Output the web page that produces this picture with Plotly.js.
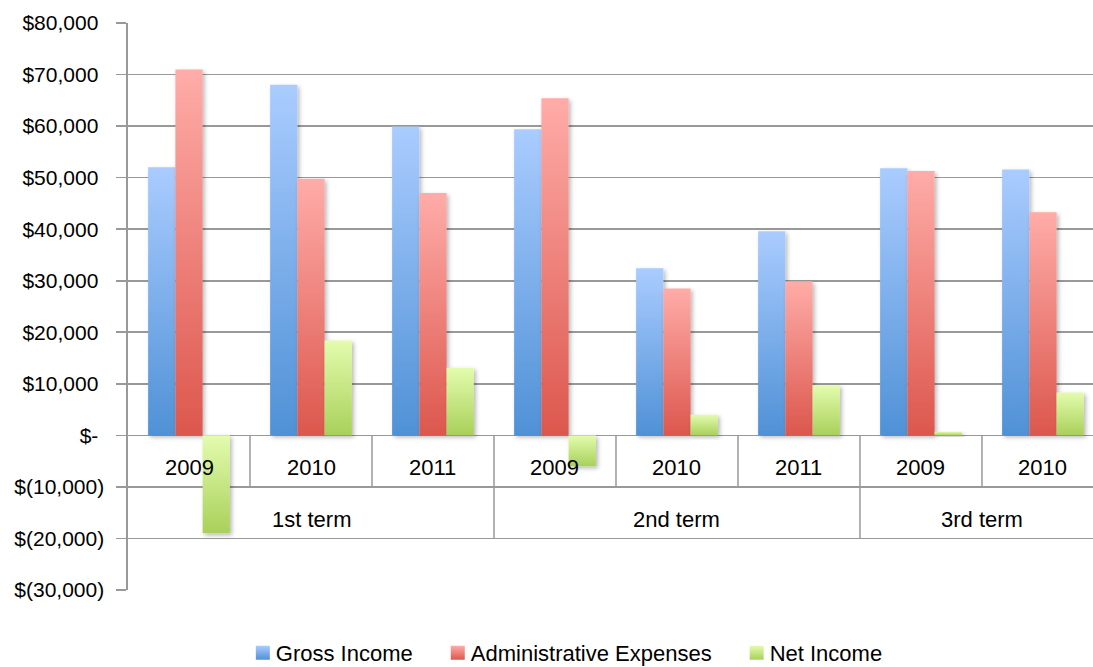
<!DOCTYPE html>
<html>
<head>
<meta charset="utf-8">
<script src="https://cdn.plot.ly/plotly-3.0.1.min.js"></script>
<style>
html,body{margin:0;padding:0;background:#fff;overflow:hidden;}
#chart{width:1093px;height:667px;}
</style>
</head>
<body>
<div id="chart"></div>
<script>
// ---- data ----
const terms = ["1st term", "2nd term", "3rd term"];
const termOfCategory = ["1st term", "1st term", "1st term", "2nd term", "2nd term", "2nd term", "3rd term", "3rd term"];
const years = ["2009", "2010", "2011", "2009", "2010", "2011", "2009", "2010"];
const grossIncome = [52000, 68000, 59900, 59400, 32400, 39600, 51800, 51600];
const adminExpenses = [71000, 49800, 47000, 65400, 28500, 29900, 51300, 43300];
const netIncome = [-19000, 18400, 13100, -6000, 4000, 9700, 700, 8300];
const yTickVals = [-30000, -20000, -10000, 0, 10000, 20000, 30000, 40000, 50000, 60000, 70000, 80000];
const yTickText = ["$(30,000)", "$(20,000)", "$(10,000)", "$-\u00a0", "$10,000\u00a0", "$20,000\u00a0", "$30,000\u00a0", "$40,000\u00a0", "$50,000\u00a0", "$60,000\u00a0", "$70,000\u00a0", "$80,000\u00a0"];
const seriesNames = ["Gross Income", "Administrative Expenses", "Net Income"];

const FONT = "Liberation Sans, Arial, sans-serif";
const GRID = "#999999";
const idx = years.map((_, i) => i);

const gradients = [
  ["#aaccff", "#4f91d6"],
  ["#ffaca8", "#dc574d"],
  ["#e3fcae", "#a9d05a"]
];

const traces = [grossIncome, adminExpenses, netIncome].map((vals, k) => ({
  type: "bar",
  name: seriesNames[k],
  x: idx,
  y: vals,
  marker: {color: gradients[k][1], line: {width: 0}},
  hoverinfo: "skip"
}));

// category table: year labels, term labels, separators
const annotations = [];
years.forEach((yr, i) => {
  annotations.push({x: i, y: -6300, xref: "x", yref: "y", text: yr, showarrow: false,
    font: {family: FONT, size: 22, color: "#000"}});
});
const shapes = [];
for (let i = 1; i < years.length; i++) {
  shapes.push({type: "line", xref: "x", yref: "y", x0: i - 0.5, x1: i - 0.5, y0: 0, y1: -10000,
    line: {color: GRID, width: 1.5}, layer: "above"});
}
terms.forEach(t => {
  const members = idx.filter(i => termOfCategory[i] === t);
  const lo = Math.min(...members), hi = Math.max(...members);
  annotations.push({x: (lo + hi) / 2, y: -16400, xref: "x", yref: "y", text: t, showarrow: false,
    font: {family: FONT, size: 22, color: "#000"}});
  if (lo > 0) {
    shapes.push({type: "line", xref: "x", yref: "y", x0: lo - 0.5, x1: lo - 0.5, y0: -10000, y1: -20000,
      line: {color: GRID, width: 1.5}, layer: "above"});
  }
});

const layout = {
  width: 1093, height: 667,
  margin: {l: 128, r: 0, t: 23, b: 77, autoexpand: false},
  paper_bgcolor: "#fff", plot_bgcolor: "#fff",
  barmode: "group",
  bargap: 0.33,
  bargroupgap: 0,
  font: {family: FONT, size: 21, color: "#000"},
  xaxis: {range: [-0.5, 7.41], showticklabels: false, showgrid: false, zeroline: false,
    showline: false, ticks: "", fixedrange: true, automargin: false},
  yaxis: {range: [-30000, 80000], tickvals: yTickVals, ticktext: yTickText,
    showgrid: true, gridcolor: GRID, gridwidth: 1.6,
    zeroline: true, zerolinecolor: GRID, zerolinewidth: 1.6,
    showline: true, linecolor: GRID, linewidth: 1.6,
    ticks: "outside", ticklen: 10, tickcolor: GRID, tickwidth: 1.6,
    ticklabelstandoff: 8, automargin: false,
    tickfont: {family: FONT, size: 21, color: "#000"}, fixedrange: true},
  legend: {orientation: "h", x: 0.456, xanchor: "center", y: -0.111, yanchor: "middle",
    font: {family: FONT, size: 22, color: "#000"}, itemclick: false, traceorder: "normal"},
  annotations: annotations,
  shapes: shapes,
  showlegend: true
};

const gd = document.getElementById("chart");
Plotly.newPlot(gd, traces, layout, {staticPlot: true, displayModeBar: false}).then(() => {
  const svg = gd.querySelector("svg.main-svg");
  const ns = "http://www.w3.org/2000/svg";
  let defs = svg.querySelector("defs");
  if (!defs) { defs = document.createElementNS(ns, "defs"); svg.insertBefore(defs, svg.firstChild); }
  gradients.forEach((g, k) => {
    const lg = document.createElementNS(ns, "linearGradient");
    lg.setAttribute("id", "barGrad" + k);
    lg.setAttribute("x1", "0"); lg.setAttribute("y1", "0");
    lg.setAttribute("x2", "0"); lg.setAttribute("y2", "1");
    [[0, g[0]], [1, g[1]]].forEach(([o, c]) => {
      const st = document.createElementNS(ns, "stop");
      st.setAttribute("offset", o); st.setAttribute("stop-color", c);
      lg.appendChild(st);
    });
    defs.appendChild(lg);
  });
  const f = document.createElementNS(ns, "filter");
  f.setAttribute("id", "barShadow");
  f.setAttribute("x", "-30%"); f.setAttribute("y", "-10%");
  f.setAttribute("width", "170%"); f.setAttribute("height", "130%");
  const ds = document.createElementNS(ns, "feDropShadow");
  ds.setAttribute("dx", "2"); ds.setAttribute("dy", "2");
  ds.setAttribute("stdDeviation", "2"); ds.setAttribute("flood-color", "#000");
  ds.setAttribute("flood-opacity", "0.28");
  f.appendChild(ds);
  defs.appendChild(f);

  gd.querySelectorAll(".barlayer .trace").forEach((tr, k) => {
    tr.querySelectorAll("path").forEach(p => {
      p.style.fill = "url(#barGrad" + k + ")";
      p.setAttribute("filter", "url(#barShadow)");
    });
  });

  // legend: compact Excel-like arrangement (symbol 14px, 6px gap, ~38px between entries)
  gd.querySelectorAll(".legend [clip-path]").forEach(el => el.removeAttribute("clip-path"));
  const items = Array.from(gd.querySelectorAll(".legend .traces"));
  const info = items.map(tr => {
    const txt = tr.querySelector("text.legendtext");
    const r = txt.getBoundingClientRect();
    return {tr, txt, left: r.left, width: r.width};
  });
  const SYM = 14, GAP = 6, SEP = 38;
  const total = info.reduce((s, it) => s + SYM + GAP + it.width, 0) + SEP * (info.length - 1);
  let cursor = 569 - total / 2;
  info.forEach((it, k) => {
    const desiredTextLeft = cursor + SYM + GAP;
    const dx = desiredTextLeft - it.left;
    const m = /translate\(\s*([-\d.]+)[ ,]+([-\d.]+)\s*\)/.exec(it.tr.getAttribute("transform") || "");
    const tx = m ? parseFloat(m[1]) : 0, ty = m ? parseFloat(m[2]) : 0;
    it.tr.setAttribute("transform", "translate(" + (tx + dx) + "," + ty + ")");
    cursor = desiredTextLeft + it.width + SEP;
    const txtR = it.txt.getBoundingClientRect();
    it.tr.querySelectorAll(".legendpoints path").forEach(p => {
      p.style.fill = "url(#barGrad" + k + ")";
      p.setAttribute("d", "M7,7H-7V-7H7Z");
      const pr = p.getBoundingClientRect();
      const curC = pr.left + pr.width / 2;
      const want = txtR.left - GAP - SYM / 2;
      const pm = /translate\(\s*([-\d.]+)[ ,]*([-\d.]*)\s*\)/.exec(p.getAttribute("transform") || "");
      const px = pm ? parseFloat(pm[1]) : 0, py = pm && pm[2] ? parseFloat(pm[2]) : 0;
      p.setAttribute("transform", "translate(" + (px + want - curC) + "," + py + ")");
    });
  });
});
</script>
</body>
</html>
